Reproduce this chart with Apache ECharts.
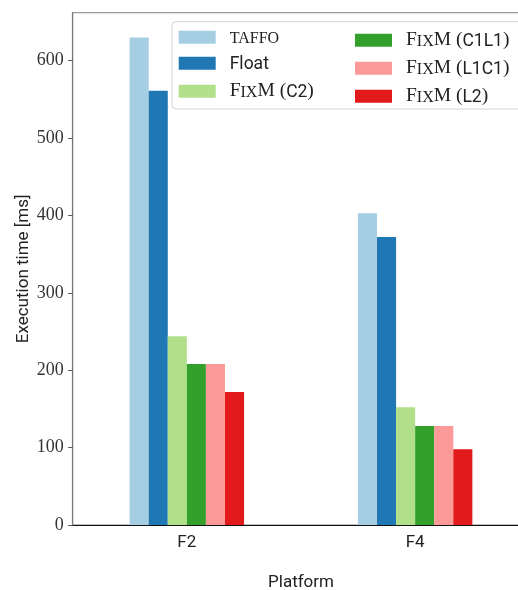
<!DOCTYPE html>
<html>
<head>
<meta charset="utf-8">
<script src="https://cdn.jsdelivr.net/npm/echarts@6/dist/echarts.min.js"></script>
<style>
  html, body { margin: 0; padding: 0; background: #fff; }
  #chart { width: 518px; height: 590px; }
</style>
</head>
<body>
<div id="chart"></div>
<script>
// Execution time per platform for each build variant
const platforms = ['F2', 'F4'];
const seriesNames = ['TAFFO', 'Float', 'FixM (C2)', 'FixM (C1L1)', 'FixM (L1C1)', 'FixM (L2)'];
const taffo = [630, 403];
const floatRef = [561, 372];
const fixmC2 = [244, 152];
const fixmC1L1 = [208, 128];
const fixmL1C1 = [208, 128];
const fixmL2 = [172, 98];
const yTicks = [0, 100, 200, 300, 400, 500, 600];

const seriesValues = [taffo, floatRef, fixmC2, fixmC1L1, fixmL1C1, fixmL2];
const colors = ['#a6cee3', '#1f78b4', '#b2df8a', '#33a02c', '#fb9a99', '#e31a1c'];

const SERIF = '"Liberation Serif", "DejaVu Serif", serif';
const SANS = 'Roboto, "DejaVu Sans", sans-serif';

// Legend labels: small-caps look built from two serif sizes
const legendRich = {
  big:  { fontFamily: SERIF, fontSize: 19.5, lineHeight: 20, verticalAlign: 'bottom', color: '#222' },
  sc:   { fontFamily: SERIF, fontSize: 16, lineHeight: 20, verticalAlign: 'bottom', color: '#222', padding: [0, 0, 1, 0] },
  sans: { fontFamily: SANS,  fontSize: 17.5, lineHeight: 20, verticalAlign: 'bottom', color: '#222' }
};
function legendLabel(name) {
  if (name === 'TAFFO') return '{sc|TAFFO}';
  if (name === 'Float') return '{sans|Float}';
  const m = name.match(/^FixM \((.*)\)$/);
  if (m) return '{big|F}{sc|IX}{big|M (}{sans|' + m[1] + '}{big|)}';
  return name;
}

const legendCommon = {
  orient: 'vertical',
  icon: 'rect',
  itemWidth: 37,
  itemHeight: 13,
  itemGap: 8,
  padding: 0,
  formatter: legendLabel,
  textStyle: { rich: legendRich, padding: [0, 0, 0, 9] },
  selectedMode: false
};

const chart = echarts.init(document.getElementById('chart'), null, { renderer: 'canvas' });
chart.setOption({
  animation: false,
  color: colors,
  grid: {
    left: 72.7, top: 12.7, width: 456.6, height: 512.3,
    outerBoundsMode: 'none',
    containLabel: false,
    show: true, borderColor: '#808080', borderWidth: 1, backgroundColor: 'transparent'
  },
  graphic: [{
    type: 'rect',
    z: 5,
    shape: { x: 172, y: 21.7, width: 360, height: 87.3, r: 4 },
    style: { fill: 'rgba(255,255,255,0.8)', stroke: '#d4d4d4', lineWidth: 1 }
  }],
  legend: [
    Object.assign({ left: 178.7, top: 30.3, data: seriesNames.slice(0, 3), z: 6 }, legendCommon),
    Object.assign({ left: 355, top: 30.3, data: seriesNames.slice(3), z: 6 }, legendCommon)
  ],
  xAxis: {
    type: 'category',
    data: platforms,
    name: 'Platform',
    nameLocation: 'middle',
    nameGap: 49,
    nameMoveOverlap: false,
    nameTextStyle: { fontFamily: SANS, fontSize: 17, color: '#222' },
    axisLine: { lineStyle: { color: '#111', width: 1.2 } },
    axisTick: { alignWithLabel: true, length: 4, lineStyle: { color: '#444' } },
    axisLabel: { fontFamily: SANS, fontSize: 17, color: '#222', margin: 9 },
    splitLine: { show: false }
  },
  yAxis: {
    type: 'value',
    min: 0,
    max: 662,
    interval: 100,
    name: 'Execution time [ms]',
    nameLocation: 'middle',
    nameGap: 40,
    nameMoveOverlap: false,
    nameTextStyle: { fontFamily: SANS, fontSize: 17, color: '#222' },
    axisLine: { show: true, lineStyle: { color: '#7a7a7a', width: 1.2 } },
    axisTick: { show: true, length: 4.5, lineStyle: { color: '#555' }, customValues: yTicks },
    axisLabel: { fontFamily: SERIF, fontSize: 18, color: '#333', margin: 9, customValues: yTicks },
    splitLine: { show: false }
  },
  series: seriesNames.map((name, i) => ({
    name: name,
    type: 'bar',
    data: seriesValues[i],
    barWidth: 19.07,
    barGap: '0%',
    itemStyle: { color: colors[i] }
  }))
});
</script>
</body>
</html>
